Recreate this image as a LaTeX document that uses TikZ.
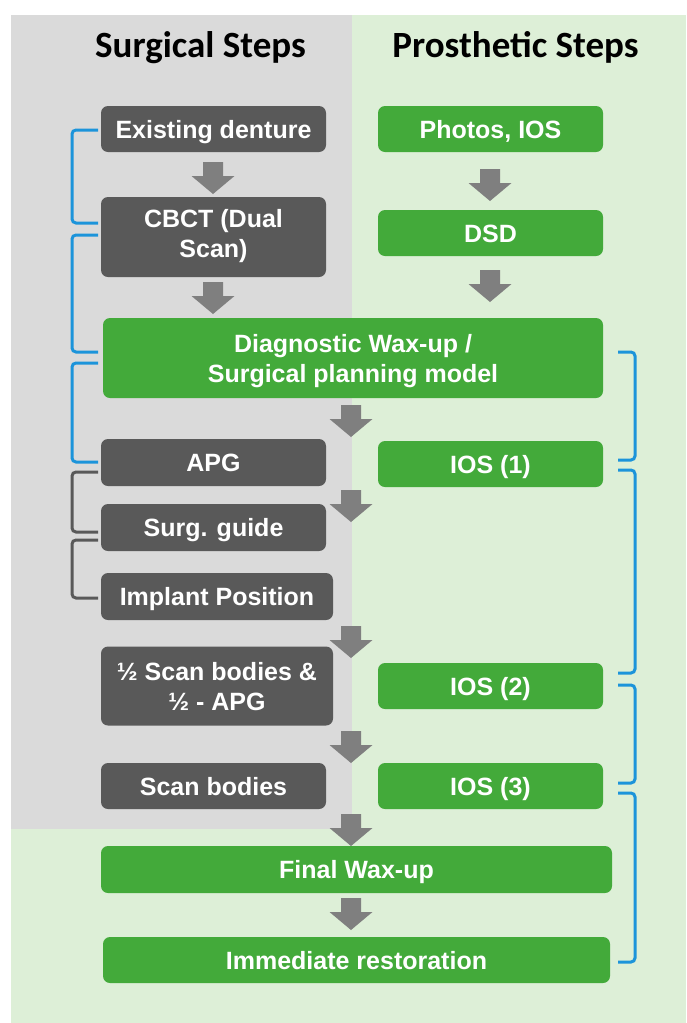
\documentclass[tikz,border=0pt]{standalone}
\usepackage{fontspec}
\setmainfont{Liberation Sans}
\newfontfamily\titlefont{Carlito}
\definecolor{bggray}{RGB}{218,218,218}
\definecolor{bggreen}{RGB}{221,239,215}
\definecolor{boxgray}{RGB}{89,89,89}
\definecolor{boxgreen}{RGB}{67,170,58}
\definecolor{arrowgray}{RGB}{127,127,127}
\definecolor{brblue}{RGB}{28,148,218}
\newcommand\blkarrow[3]{%
  \fill[arrowgray] (#2-10,#3) coordinate (#1) -- (#2+10,#3) -- (#2+10,#3+14) -- (#2+21.5,#3+14) -- (#2,#3+32) -- (#2-21.5,#3+14) -- (#2-10,#3+14) -- cycle;}
\begin{document}
\begin{tikzpicture}[x=1pt,y=-1pt,
  title/.style={font=\titlefont\bfseries\fontsize{37}{44}\selectfont, text=black, anchor=base, inner sep=0pt},
  stepbox/.style={rounded corners=7pt, text=white, font=\bfseries\fontsize{25}{30}\selectfont,
    inner sep=0pt, align=center, text height=18pt, text depth=0pt, minimum width=225pt, minimum height=46pt},
  surg/.style={stepbox, fill=boxgray},
  pros/.style={stepbox, fill=boxgreen},
  twoline/.style={text height=48pt, text depth=0pt},
  bluebr/.style={draw=brblue, line width=3pt, rounded corners=4pt},
  graybr/.style={draw=boxgray, line width=3pt, rounded corners=4pt}]
\useasboundingbox (0,0) rectangle (686,1023);
\fill[white] (0,0) rectangle (686,1023);
\fill[bggreen] (11,15) rectangle (686,1023);
\fill[bggray] (11,15) rectangle (352,829);

\node[title] (ts) at (200.5,57) {Surgical Steps};
\node[title] (tp) at (515.5,57) {Prosthetic Steps};

% surgical column
\node[surg] (ed) at (213.5,129) {Existing denture};
\node[surg, text height=44pt, text depth=4pt, minimum height=80pt] (cbct) at (213.5,237) {CBCT (Dual\\Scan)};
\node[pros, twoline, minimum width=500pt, minimum height=80pt] (diag) at (353,358) {Diagnostic Wax-up /\\Surgical planning model};
\node[surg, minimum height=47pt] (apg) at (213.5,462.5) {APG};
\node[surg, minimum height=47pt] (sg) at (213.5,527.5) {Surg. guide};
\node[surg, minimum width=232pt, minimum height=47pt] (ip) at (217,596.5) {Implant Position};
\node[surg, twoline, minimum width=232pt, minimum height=79pt] (half) at (217,686) {½ Scan bodies \&\\½ - APG};
\node[surg] (sb) at (213.5,786) {Scan bodies};
\node[pros, minimum width=511pt, minimum height=47pt] (fw) at (356.5,869.5) {Final Wax-up};
\node[pros, minimum width=507pt] (ir) at (356.5,960) {Immediate restoration};

% prosthetic column
\node[pros] (ph) at (490.5,129) {Photos, IOS};
\node[pros] (dsd) at (490.5,233) {DSD};
\node[pros] (ios1) at (490.5,464) {IOS (1)};
\node[pros] (ios2) at (490.5,686) {IOS (2)};
\node[pros] (ios3) at (490.5,786) {IOS (3)};

% block arrows
\blkarrow{a1}{213}{162}
\blkarrow{a2}{213}{282}
\blkarrow{a3}{490}{169}
\blkarrow{a4}{490}{270}
\blkarrow{a5}{351}{405}
\blkarrow{a6}{351}{490}
\blkarrow{a7}{351}{626}
\blkarrow{a8}{351}{731}
\blkarrow{a9}{351}{814}
\blkarrow{a10}{351}{898}

% left brackets
\draw[bluebr] (98,130) -- (72,130) -- (72,223) -- (98,223);
\draw[bluebr] (98,235) -- (72,235) -- (72,352) -- (98,352);
\draw[bluebr] (98,363) -- (72,363) -- (72,462) -- (98,462);
\draw[graybr] (98,472) -- (72,472) -- (72,532) -- (98,532);
\draw[graybr] (98,540) -- (72,540) -- (72,598) -- (98,598);

% right brackets
\draw[bluebr] (618,352) -- (635,352) -- (635,460) -- (618,460);
\draw[bluebr] (618,470) -- (635,470) -- (635,673) -- (618,673);
\draw[bluebr] (618,685) -- (635,685) -- (635,783) -- (618,783);
\draw[bluebr] (618,793) -- (635,793) -- (635,962) -- (618,962);
\end{tikzpicture}
\end{document}
